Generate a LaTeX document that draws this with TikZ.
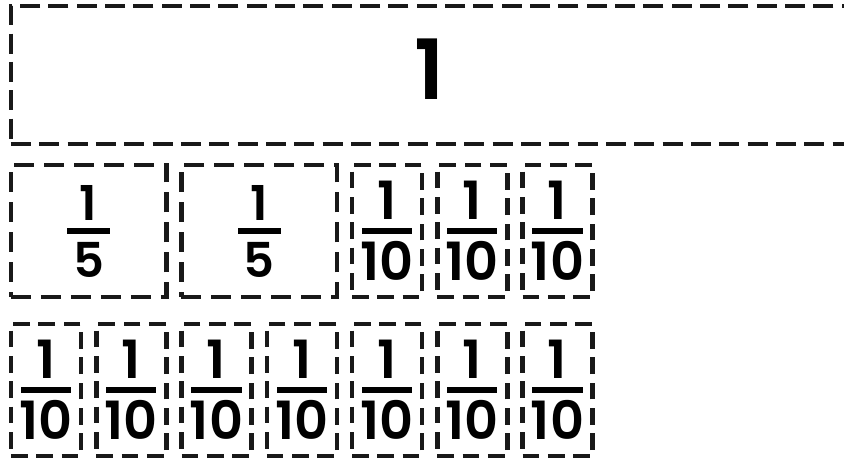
\documentclass[tikz,border=0pt]{standalone}
\usepackage{fontspec}
\newfontfamily\numfont{Poppins}[UprightFont={* SemiBold}]
\usetikzlibrary{positioning}

% stacked fraction: bar width, numerator, denominator
\newcommand{\frc}[3]{\vbox{\offinterlineskip\halign{\hfil##\hfil\cr
  #2\cr\noalign{\kern6.8pt}
  \vrule width #1 height 5.1pt\cr\noalign{\kern6.8pt}
  #3\cr}}}

\begin{document}
\begin{tikzpicture}[
  x=0.3mm, y=-0.3mm,
  piece/.style={
    draw=black!90, line width=1.35mm,
    inner sep=0pt, align=center
  },
  whole/.style={
    piece, dash pattern=on 6mm off 2.5mm,
    minimum width=251.4mm,
    minimum height=41.4mm,
    text depth=10pt,
    font=\numfont\fontsize{71}{80}\selectfont
  },
  fifth/.style={
    piece, dash pattern=on 6mm off 3mm,
    minimum width=46.6mm,
    minimum height=39.6mm,
    font=\numfont\fontsize{41}{44}\selectfont
  },
  tenth/.style={
    piece, dash pattern=on 5mm off 2.6mm,
    minimum width=21mm,
    minimum height=39.6mm,
    font=\numfont\fontsize{45}{50}\selectfont
  }
]
\clip (0,0) rectangle (844,461);

\node[whole] (one) at (430,75) {1};

\node[fifth] (fifthA) at ({46+85.25*0.5},231) {\frc{36.7pt}{1}{5}};
\node[fifth] (fifthB) at ({46+85.25*2.5},231) {\frc{36.7pt}{1}{5}};
\foreach \i in {4,5,6}
  \node[tenth] (upper\i) at ({46+85.25*\i},231) {\frc{42.7pt}{1}{10}};

\foreach \i in {0,...,6}
  \node[tenth] (lower\i) at ({46+85.25*\i},390) {\frc{42.7pt}{1}{10}};

\end{tikzpicture}
\end{document}
